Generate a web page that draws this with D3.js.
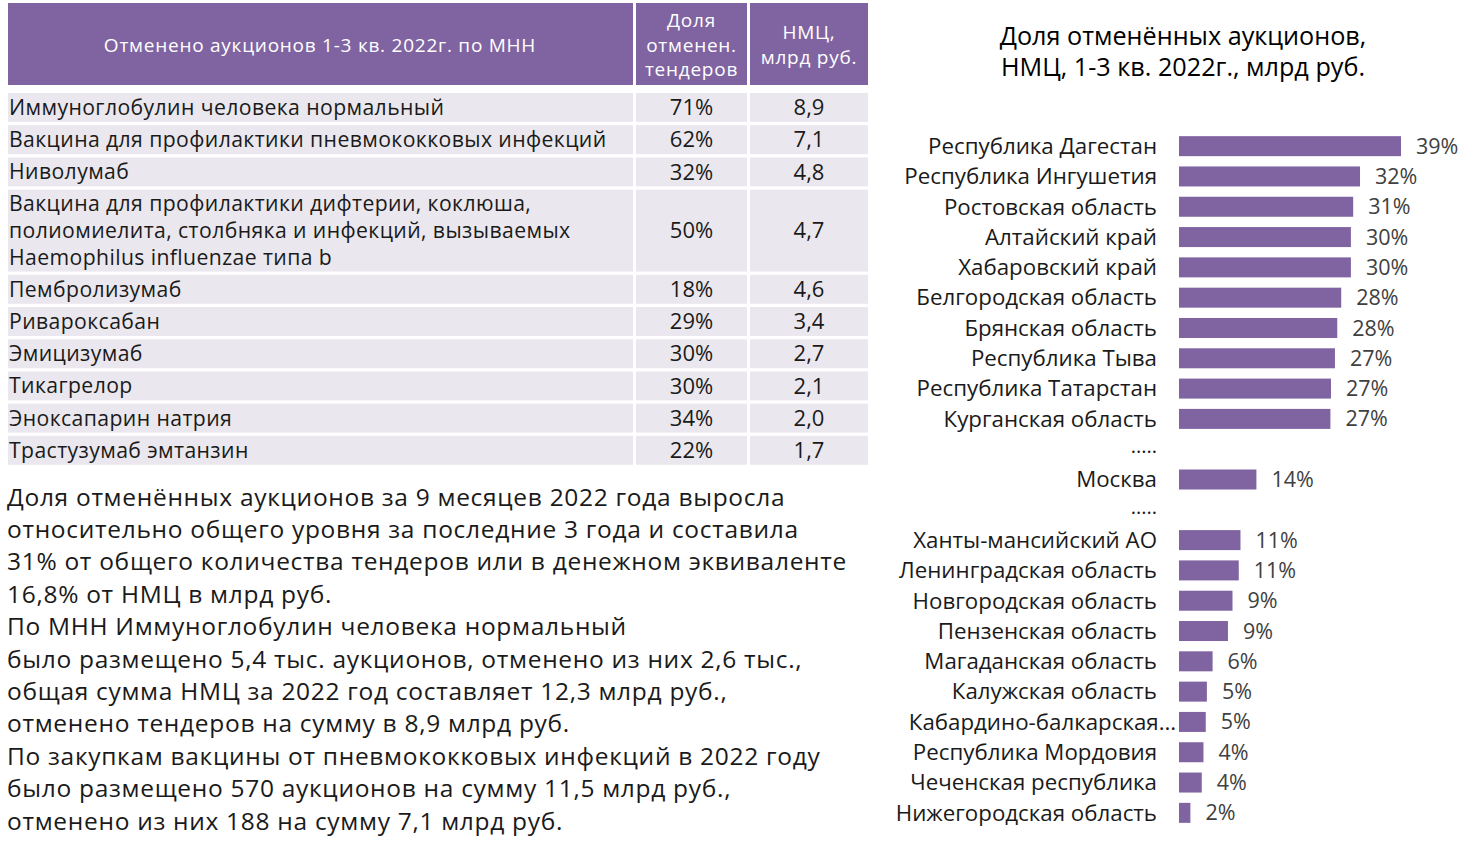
<!DOCTYPE html>
<html>
<head>
<meta charset="utf-8">
<script src="https://cdn.jsdelivr.net/npm/d3@7"></script>
<style>
  body { margin: 0; background: #fff; }
  svg { display: block; font-family: "Open Sans", "Noto Sans", sans-serif; }
</style>
</head>
<body>
<div id="chart"></div>
<script>
'use strict';

// table data
var drugs = [
    ['Иммуноглобулин человека нормальный'],
    ['Вакцина для профилактики пневмококковых инфекций'],
    ['Ниволумаб'],
    ['Вакцина для профилактики дифтерии, коклюша,', 'полиомиелита, столбняка и инфекций, вызываемых', 'Haemophilus influenzae типа b'],
    ['Пембролизумаб'],
    ['Ривароксабан'],
    ['Эмицизумаб'],
    ['Тикагрелор'],
    ['Эноксапарин натрия'],
    ['Трастузумаб эмтанзин']
];
var cancelShare = ['71%', '62%', '32%', '50%', '18%', '29%', '30%', '30%', '34%', '22%'];
var nmcBn = ['8,9', '7,1', '4,8', '4,7', '4,6', '3,4', '2,7', '2,1', '2,0', '1,7'];
var tableHeader = [
    ['Отменено аукционов 1-3 кв. 2022г. по МНН'],
    ['Доля', 'отменен.', 'тендеров'],
    ['НМЦ,', 'млрд руб.']
];

// bar chart data ('.....' rows are gaps in the list)
var regions = ['Республика Дагестан', 'Республика Ингушетия', 'Ростовская область', 'Алтайский край',
    'Хабаровский край', 'Белгородская область', 'Брянская область', 'Республика Тыва',
    'Республика Татарстан', 'Курганская область', '.....1', 'Москва', '.....2',
    'Ханты-мансийский АО', 'Ленинградская область', 'Новгородская область', 'Пензенская область',
    'Магаданская область', 'Калужская область', 'Кабардино-балкарская…', 'Республика Мордовия',
    'Чеченская республика', 'Нижегородская область'];
var regionShare = [0.390, 0.318, 0.306, 0.302, 0.302, 0.285, 0.278, 0.274, 0.267, 0.266, null, 0.136, null,
    0.108, 0.105, 0.094, 0.086, 0.059, 0.049, 0.047, 0.043, 0.040, 0.020];

var chartTitle = ['Доля отменённых аукционов,', 'НМЦ, 1-3 кв. 2022г., млрд руб.'];

var notes = [
    'Доля отменённых аукционов за 9 месяцев 2022 года выросла',
    'относительно общего уровня за последние 3 года и составила',
    '31% от общего количества тендеров или в денежном эквиваленте',
    '16,8% от НМЦ в млрд руб.',
    'По МНН Иммуноглобулин человека нормальный',
    'было размещено 5,4 тыс. аукционов, отменено из них 2,6 тыс.,',
    'общая сумма НМЦ за 2022 год составляет 12,3 млрд руб.,',
    'отменено тендеров на сумму в 8,9 млрд руб.',
    'По закупкам вакцины от пневмококковых инфекций в 2022 году',
    'было размещено 570 аукционов на сумму 11,5 млрд руб.,',
    'отменено из них 188 на сумму 7,1 млрд руб.'
];

var purple = '#8064a2',
    rowFill = '#eae8ee',
    textCol = '#1a1a1a';

var svg = d3.select('#chart')
    .append('svg')
    .attr('width', 1459)
    .attr('height', 842);

// ---------- table ----------
var cols = [{x0: 8, x1: 633}, {x0: 636, x1: 747}, {x0: 750, x1: 868}];
var head = svg.append('g');
cols.forEach(function (c, i) {
    head.append('rect')
        .attr('x', c.x0).attr('y', 3)
        .attr('width', c.x1 - c.x0).attr('height', 82)
        .attr('fill', purple);
    var lines = tableHeader[i];
    var lh = 24.5;
    head.append('text')
        .attr('fill', '#fff')
        .attr('font-size', 19)
        .attr('letter-spacing', 0.75)
        .attr('text-anchor', 'middle')
        .selectAll('tspan')
        .data(lines)
        .enter().append('tspan')
        .attr('x', i === 0 ? 320 : (c.x0 + c.x1) / 2)
        .attr('y', function (d, j) { return 45 + (j - (lines.length - 1) / 2) * lh; })
        .attr('dy', '0.35em')
        .text(function (d) { return d; });
});

// row positions from the line counts
var rowBase = 29, lineStep = 26.5, gap = 3.2;
var rows = [], rowTop = 93;
drugs.forEach(function (d, i) {
    var h = rowBase + lineStep * (d.length - 1);
    rows.push({name: d, share: cancelShare[i], nmc: nmcBn[i], y: rowTop, h: h});
    rowTop += h + gap;
});

var body = svg.append('g').selectAll('g.row')
    .data(rows)
    .enter().append('g')
    .attr('class', 'row')
    .attr('transform', function (d) { return 'translate(0,' + d.y + ')'; });

cols.forEach(function (c) {
    body.append('rect')
        .attr('x', c.x0).attr('width', c.x1 - c.x0)
        .attr('height', function (d) { return d.h; })
        .attr('fill', rowFill);
});

body.append('text')
    .attr('fill', textCol)
    .attr('font-size', 21.2)
    .attr('letter-spacing', 0.4)
    .each(function (d) {
        var t = d3.select(this);
        d.name.forEach(function (ln, j) {
            t.append('tspan')
                .attr('x', 9)
                .attr('y', d.h / 2 + (j - (d.name.length - 1) / 2) * 27)
                .attr('dy', '0.35em')
                .text(ln);
        });
    });

body.append('text')
    .attr('x', (cols[1].x0 + cols[1].x1) / 2)
    .attr('y', function (d) { return d.h / 2; })
    .attr('dy', '0.35em')
    .attr('text-anchor', 'middle')
    .attr('fill', textCol)
    .attr('font-size', 22)
    .text(function (d) { return d.share; });

body.append('text')
    .attr('x', (cols[2].x0 + cols[2].x1) / 2)
    .attr('y', function (d) { return d.h / 2; })
    .attr('dy', '0.35em')
    .attr('text-anchor', 'middle')
    .attr('fill', textCol)
    .attr('font-size', 22)
    .text(function (d) { return d.nmc; });

// ---------- notes ----------
svg.append('text')
    .attr('fill', textCol)
    .attr('font-size', 24.5)
    .attr('letter-spacing', 0.7)
    .selectAll('tspan')
    .data(notes)
    .enter().append('tspan')
    .attr('x', 7)
    .attr('y', function (d, i) { return 497 + i * 32.4; })
    .attr('dy', '0.35em')
    .text(function (d) { return d; });

// ---------- bar chart ----------
svg.append('text')
    .attr('text-anchor', 'middle')
    .attr('fill', '#000')
    .attr('font-size', 25.2)
    .selectAll('tspan')
    .data(chartTitle)
    .enter().append('tspan')
    .attr('x', 1183)
    .attr('y', function (d, i) { return 36 + i * 31; })
    .attr('dy', '0.35em')
    .text(function (d) { return d; });

var barData = regions.map(function (r, i) { return {region: r, v: regionShare[i]}; });

var y = d3.scaleBand()
    .domain(regions)
    .range([131, 828])
    .paddingInner(0.34)
    .paddingOuter(0.17);

var x = d3.scaleLinear()
    .domain([0, 0.39])
    .range([1179, 1401]);

var pct = d3.format('.0%');

var bars = svg.append('g');

bars.selectAll('rect')
    .data(barData.filter(function (d) { return d.v !== null; }))
    .enter().append('rect')
    .attr('x', x(0))
    .attr('y', function (d) { return y(d.region); })
    .attr('width', function (d) { return x(d.v) - x(0); })
    .attr('height', y.bandwidth())
    .attr('fill', purple);

bars.selectAll('text.val')
    .data(barData.filter(function (d) { return d.v !== null; }))
    .enter().append('text')
    .attr('class', 'val')
    .attr('x', function (d) { return x(d.v) + 15; })
    .attr('y', function (d) { return y(d.region) + y.bandwidth() / 2; })
    .attr('dy', '0.35em')
    .attr('fill', '#404040')
    .attr('font-size', 21.5)
    .text(function (d) { return pct(d.v); });

bars.selectAll('text.cat')
    .data(barData)
    .enter().append('text')
    .attr('class', 'cat')
    .attr('x', function (d) { return /…$/.test(d.region) ? 1176 : 1157; })
    .attr('y', function (d) { return y(d.region) + y.bandwidth() / 2; })
    .attr('dy', function (d) { return d.v === null ? '0.2em' : '0.35em'; })
    .attr('text-anchor', 'end')
    .attr('fill', textCol)
    .attr('font-size', function (d) { return d.v === null ? 20 : 22.3; })
    .text(function (d) { return d.v === null ? '.....' : d.region; });
</script>
</body>
</html>
